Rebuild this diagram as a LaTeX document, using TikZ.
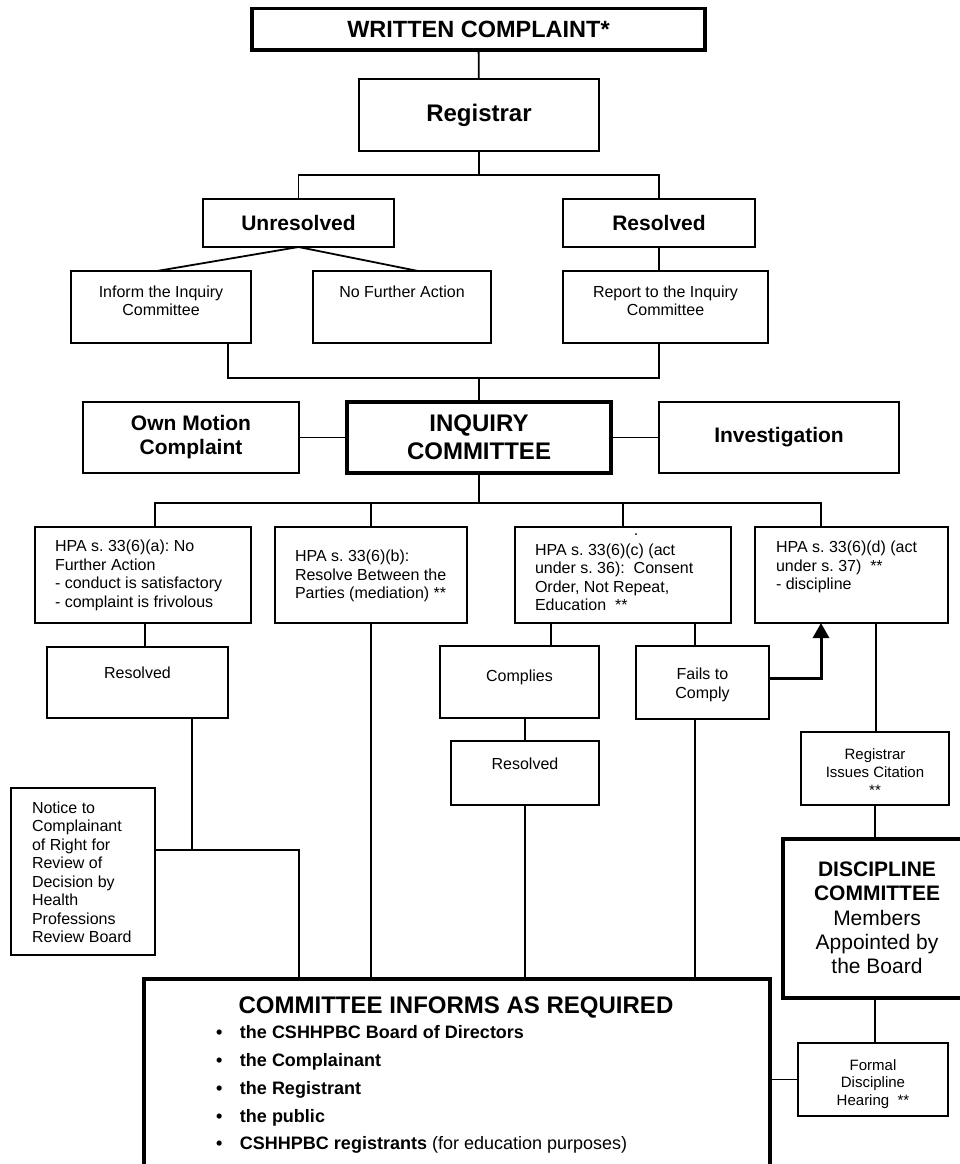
\documentclass[tikz,border=0pt]{standalone}
\usepackage{fontspec}
\setmainfont{Liberation Sans}
\usetikzlibrary{arrows.meta,calc}
\frenchspacing
\newcommand\fsz[2]{\fontsize{#1}{#2}\selectfont}
% box from (x1,y1) to (x2,y2), pixel coordinates, y down
\newcommand\boxat[6][box]{\node[#1,minimum width={#4-#2},minimum height={#5-#3}] (#6) at ({(#2+#4)/2},{(#3+#5)/2}) {};}
\begin{document}
\begin{tikzpicture}[x=1pt,y=-1pt,
  box/.style={draw,line width=1.8pt,rectangle,inner sep=0pt,outer sep=0pt},
  thickbox/.style={box,line width=3.2pt},
  conn/.style={line width=1.8pt},
  arrowline/.style={line width=3pt,-{Triangle[length=15pt,width=16pt]}},
  ctxt/.style={inner sep=0pt,outer sep=0pt,align=center},
  ltxt/.style={inner sep=0pt,outer sep=0pt,align=left},
  small/.style={font=\fsz{16}{18.5}},
  mid/.style={font=\fsz{21}{24}\bfseries},
  big/.style={font=\fsz{24}{28}\bfseries},
  tiny/.style={font=\fsz{15}{17.8}},
  bul/.style={ltxt,anchor=base west,font=\fsz{18}{22}\bfseries}
]
\useasboundingbox (0,0) rectangle (959,1164);

% ---- boxes ----
\boxat[thickbox]{252}{8.5}{705}{50}{wc}
\boxat{359}{79}{599}{151}{reg}
\boxat{203}{199}{394}{247}{unres}
\boxat{563}{199}{755}{247}{res}
\boxat{71}{271}{251}{343}{inform}
\boxat{313}{271}{491}{343}{nfa}
\boxat{563}{271}{768}{343}{report}
\boxat{83}{402}{299}{473}{own}
\boxat[thickbox]{347}{402}{611}{473}{inq}
\boxat{659}{402}{899}{473}{inv}
\boxat{35}{527}{251}{623}{A}
\boxat{275}{527}{467}{623}{B}
\boxat{515}{527}{731}{623}{C}
\boxat{755}{527}{948}{623}{D}
\boxat{47}{647}{228}{718}{res1}
\boxat{440}{646}{599}{718}{comp}
\boxat{636}{646}{769}{719}{fails}
\boxat{451}{741}{599}{805}{res2}
\boxat{801}{732}{949}{805}{cit}
\boxat[thickbox]{783}{839}{972}{998}{disc}
\boxat{11}{788}{155}{955}{notice}
\boxat{798}{1043}{948}{1116}{hear}
\boxat[thickbox]{144}{979}{770}{1190}{bigbox}

% ---- texts ----
\node[ctxt,font=\fsz{23.5}{26}\bfseries] (twc) at (wc) {WRITTEN COMPLAINT*};
\node[ctxt,font=\fsz{24}{28}\bfseries] (treg) at (reg) {Registrar};
\node[ctxt,mid] (tunres) at (unres) {Unresolved};
\node[ctxt,mid] (tres) at (res) {Resolved};
\node[ctxt,small] (tinform) at (161,301) {Inform the Inquiry\\Committee};
\node[ctxt,small] (tnfa) at (402,292) {No Further Action};
\node[ctxt,small] (treport) at (665.5,301) {Report to the Inquiry\\Committee};
\node[ctxt,mid] (town) at (own) {Own Motion\\Complaint};
\node[ctxt,big] (tinq) at (inq) {INQUIRY\\COMMITTEE};
\node[ctxt,mid] (tinv) at (inv) {Investigation};
\node[ltxt,small,anchor=west] (tA) at (55,575.5) {HPA s. 33(6)(a): No\\Further Action\\- conduct is satisfactory\\- complaint is frivolous};
\node[ltxt,small,anchor=west] (tB) at (295,576) {HPA s. 33(6)(b):\\Resolve Between the\\Parties (mediation) **};
\node[ltxt,small,anchor=west] (tC) at (535,577.5) {HPA s. 33(6)(c) (act\\under s. 36):\ \ Consent\\Order, Not Repeat,\\Education\ \ **};
\node[ctxt,small] (tCdot) at (636,535) {.};
\node[ltxt,small,anchor=west] (tD) at (776,567) {HPA s. 33(6)(d) (act\\under s. 37)\ \ **\\- discipline};
\node[ctxt,small] (tres1) at (137.5,673) {Resolved};
\node[ctxt,small] (tcomp) at (519.5,677) {Complies};
\node[ctxt,small] (tfails) at (702.5,685) {Fails to\\Comply};
\node[ctxt,small] (tres2) at (525,764) {Resolved};
\node[ctxt,tiny] (tcit) at (875,772) {Registrar\\Issues Citation\\**};
\node[ltxt,small,anchor=west] (tnotice) at (32,872.5) {Notice to\\Complainant\\of Right for\\Review of\\Decision by\\Health\\Professions\\Review Board};
\node[ctxt,font=\fsz{21}{24.3}] (tdisc) at (877,918) {\textbf{DISCIPLINE}\\\textbf{COMMITTEE}\\Members\\Appointed by\\the Board};
\node[ctxt,tiny] (thear) at (873,1084) {Formal\\Discipline\\Hearing\ \ **};
\node[ctxt,font=\fsz{24}{28}\bfseries,anchor=base] (tbig) at (456,1013) {COMMITTEE INFORMS AS REQUIRED};
\node[bul] (bl1) at (216,1038) {\makebox[24pt][l]{•}the CSHHPBC Board of Directors};
\node[bul] (bl2) at (216,1066) {\makebox[24pt][l]{•}the Complainant};
\node[bul] (bl3) at (216,1094) {\makebox[24pt][l]{•}the Registrant};
\node[bul] (bl4) at (216,1122) {\makebox[24pt][l]{•}the public};
\node[bul] (bl5) at (216,1149) {\makebox[24pt][l]{•}CSHHPBC registrants \mdseries(for education purposes)};

% ---- connectors ----
\draw[conn] (wc) -- (reg);
\coordinate (b1) at (479,175);
\draw[conn] (reg.south) -- (b1);
\draw[conn] (unres.north) |- (b1) -| (res.north);
\draw[conn] (unres.south) -- ($(inform.north)+(-4,0)$);
\draw[conn] (unres.south) -- ($(nfa.north)+(16,0)$);
\draw[conn] (res.south) -- (res.south |- report.north);

\coordinate (j1) at (479,378);
\draw[conn] ($(inform.south)+(67,0)$) |- (j1);
\draw[conn] (j1) -| ($(report.south)+(-6.5,0)$);
\draw[conn] (j1) -- (inq.north);
\draw[conn] (own.east) -- (inq.west);
\draw[conn] (inq.east) -- (inv.west);

\coordinate (j2) at (479,503);
\coordinate (dd) at ($(D.north)+(-30.5,0)$);
\draw[conn] (inq.south) -- (j2);
\draw[conn] ($(A.north)+(12,0)$) |- (j2) -| (dd);
\draw[conn] (B.north) -- (B.north |- j2);
\draw[conn] (C.north) -- (C.north |- j2);

\draw[conn] ($(A.south)+(2,0)$) coordinate (a1) -- (a1 |- res1.north);
\draw[conn] (B.south) -- (B.south |- bigbox.north);
\draw[conn] ($(C.south)+(-72,0)$) coordinate (c1) -- (c1 |- comp.north);
\draw[conn] ($(C.south)+(72,0)$) coordinate (c2) -- (c2 |- fails.north);
\draw[conn] (res2.north |- comp.south) -- (res2.north);
\draw[conn] (res2.south) -- (res2.south |- bigbox.north);
\draw[conn] (c2 |- fails.south) -- (c2 |- bigbox.north);
\draw[arrowline] ($(fails.east)+(0,-4.5)$) -| (D.south -| dd);

\draw[conn] ($(D.south)+(24.5,0)$) coordinate (d2) -- (d2 |- cit.north);
\draw[conn] (cit.south) -- (cit.south |- disc.north);
\draw[conn] (disc.south -| cit.south) -- (hear.north -| cit.south);
\draw[conn] (bigbox.east |- hear.west) -- (hear.west);

\coordinate (j4) at (192,850);
\draw[conn] ($(res1.south)+(54.5,0)$) -- (j4);
\draw[conn] (notice.east |- j4) -| ($(bigbox.north)+(-158,0)$);
\end{tikzpicture}
\end{document}
